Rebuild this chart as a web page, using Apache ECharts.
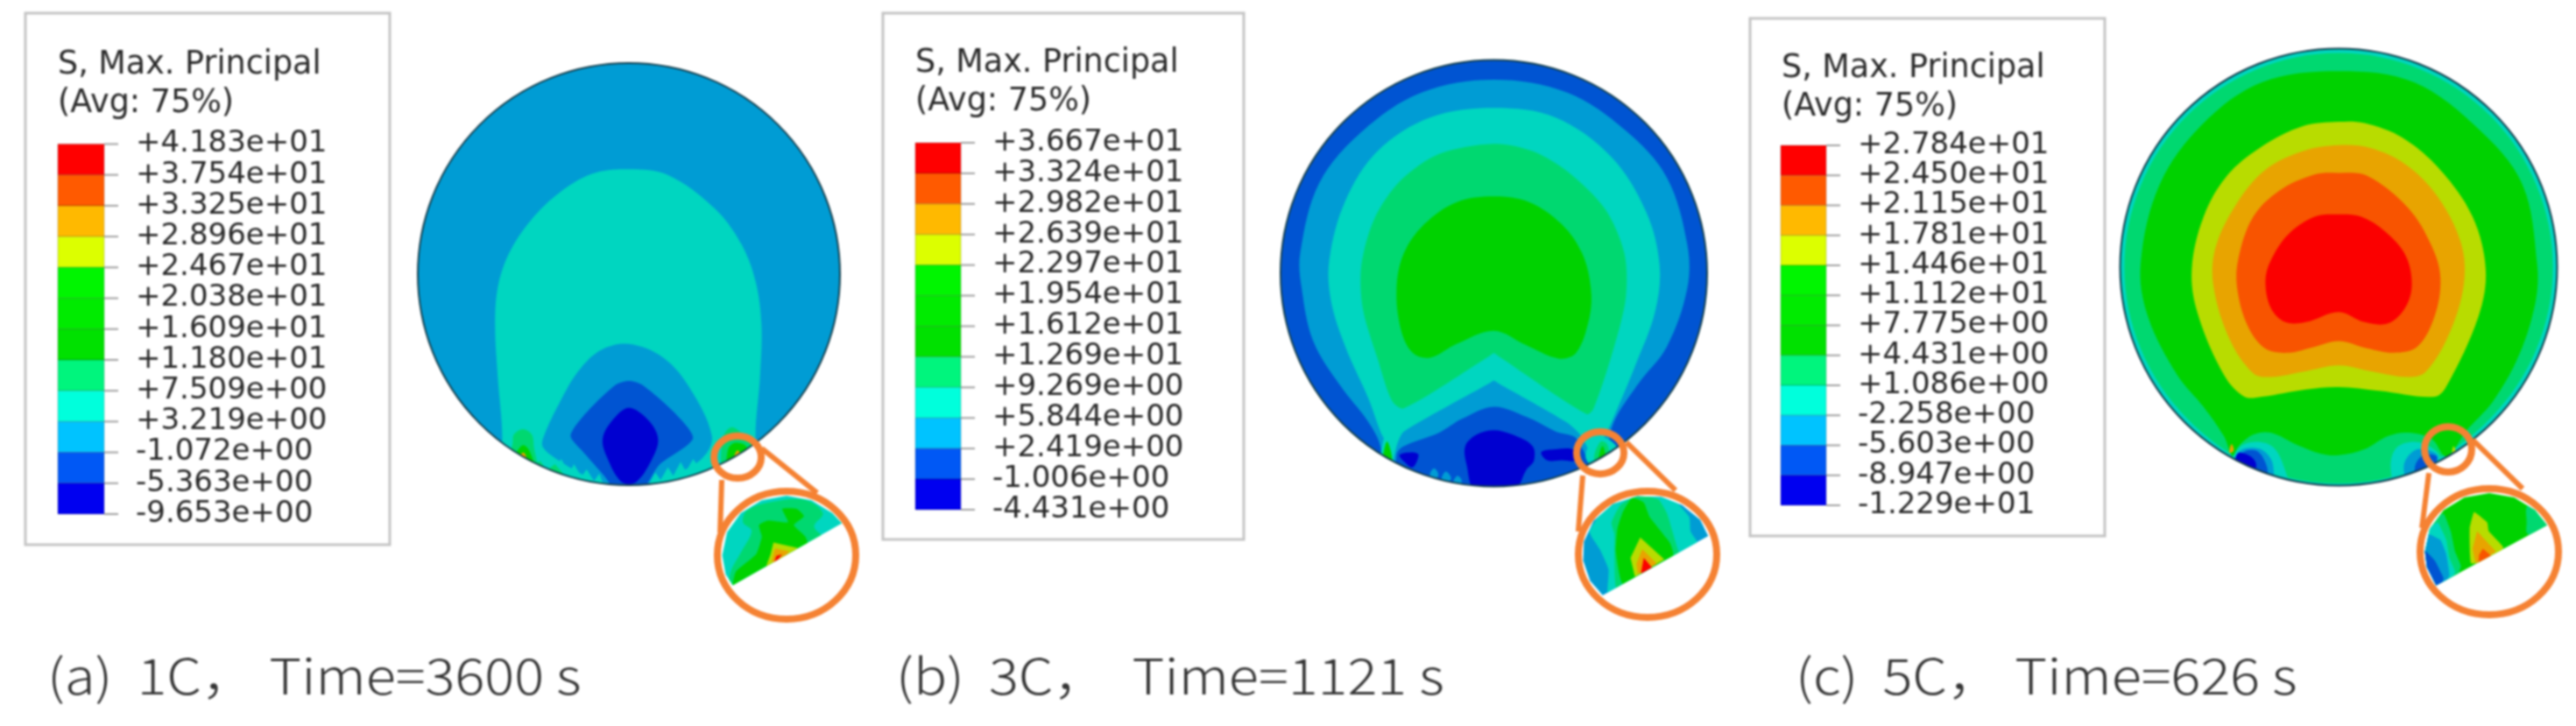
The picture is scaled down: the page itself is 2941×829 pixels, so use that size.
<!DOCTYPE html>
<html>
<head>
<meta charset="utf-8">
<title>Max principal stress contours</title>
<script src="https://cdn.jsdelivr.net/npm/echarts@6/dist/echarts.min.js"></script>
<style>
  html, body { margin: 0; background: #fff; }
  #chart { width: 2941px; height: 829px; filter: blur(0.8px); }
</style>
</head>
<body>
<div id="chart"></div>
<script>
// legend bands, top to bottom
const legendColors = ['#ff0000', '#ff5a00', '#ffb900', '#dcff00', '#00f500', '#00eb00', '#00e100', '#00f57d', '#00ffdc', '#00c3ff', '#0058f5', '#0000f0']
// contour fills are a bit darker than the legend
const RED = 0, ORANGERED = 1, ORANGE = 2, YELLOW = 3, GREEN = 4, SEA = 5, CYAN = 6, SKY = 7, BLUE = 8, DEEP = 9
const contourColors = ['#fb0000', '#f85400', '#e8a400', '#b8dc00', '#00d200', '#00d870', '#00d6c0', '#009cd4', '#0054d2', '#0000d0']

const levelsA = ['+4.183e+01', '+3.754e+01', '+3.325e+01', '+2.896e+01', '+2.467e+01', '+2.038e+01', '+1.609e+01', '+1.180e+01', '+7.509e+00', '+3.219e+00', '-1.072e+00', '-5.363e+00', '-9.653e+00']
const levelsB = ['+3.667e+01', '+3.324e+01', '+2.982e+01', '+2.639e+01', '+2.297e+01', '+1.954e+01', '+1.612e+01', '+1.269e+01', '+9.269e+00', '+5.844e+00', '+2.419e+00', '-1.006e+00', '-4.431e+00']
const levelsC = ['+2.784e+01', '+2.450e+01', '+2.115e+01', '+1.781e+01', '+1.446e+01', '+1.112e+01', '+7.775e+00', '+4.431e+00', '+1.086e+00', '-2.258e+00', '-5.603e+00', '-8.947e+00', '-1.229e+01']

const legendTitle = 'S, Max. Principal\n(Avg: 75%)'
const captions = ['(a)  1C， Time=3600 s', '(b)  3C， \u2009Time=1121 s', '(c)  5C， Time=626 s']

// contours: [band, points, smooth?], x/y in disc radii
const discA = [
  [CYAN, [[0, 0.497], [-0.172, 0.476], [-0.338, 0.379], [-0.476, 0.241], [-0.572, 0.09], [-0.621, -0.062], [-0.634, -0.241], [-0.621, -0.49], [-0.6, -0.779], [-0.62, -1.1], [0.63, -1.1], [0.6, -0.779], [0.621, -0.49], [0.628, -0.241], [0.6, -0.034], [0.531, 0.145], [0.407, 0.31], [0.186, 0.469]]],
  [SKY, [[0, -0.331], [-0.131, -0.359], [-0.241, -0.462], [-0.338, -0.628], [-0.407, -0.779], [-0.407, -0.821], [-0.352, -0.87], [-0.21, -0.955], [-0.075, -1.02], [0.075, -1.02], [0.21, -0.955], [0.35, -0.87], [0.393, -0.766], [0.283, -0.531], [0.159, -0.393]]],
  [BLUE, [[0, -0.506], [-0.062, -0.524], [-0.2, -0.655], [-0.276, -0.766], [-0.214, -0.845], [-0.117, -0.955], [-0.062, -1.02], [0.062, -1.02], [0.145, -0.903], [0.303, -0.779], [0.214, -0.655], [0.062, -0.524]], 0.25],
  [DEEP, [[0, -0.634], [-0.076, -0.69], [-0.124, -0.779], [-0.103, -0.869], [-0.034, -0.985], [0.034, -0.985], [0.11, -0.876], [0.138, -0.779], [0.09, -0.69]]],
  [CYAN, [[-0.07, -1.05], [-0.09, -0.995], [-0.125, -0.985], [-0.14, -0.945], [-0.165, -0.98], [-0.2, -0.925], [-0.225, -0.96], [-0.26, -0.9], [-0.285, -0.945], [-0.32, -0.875], [-0.345, -0.91], [-0.39, -0.85], [-0.52, -0.95], [-0.3, -1.1]], 0],
  [CYAN, [[0.07, -1.05], [0.1, -0.985], [0.125, -0.94], [0.15, -0.975], [0.185, -0.915], [0.21, -0.955], [0.245, -0.89], [0.27, -0.935], [0.305, -0.875], [0.33, -0.915], [0.37, -0.85], [0.42, -0.9], [0.38, -1.1]], 0],
  [SEA, [[-0.48, -0.92], [-0.42, -0.885], [-0.39, -0.93], [-0.35, -0.9], [-0.3, -0.96], [-0.4, -1.0]], 0],
  [SEA, [[-0.55, -0.8], [-0.545, -0.76], [-0.502, -0.734], [-0.46, -0.76], [-0.45, -0.82], [-0.44, -0.92], [-0.56, -0.88]]],
  [GREEN, [[-0.53, -0.84], [-0.5, -0.81], [-0.47, -0.84], [-0.45, -0.92], [-0.55, -0.88]]],
  [ORANGE, [[-0.52, -0.865], [-0.5, -0.845], [-0.485, -0.87], [-0.49, -0.9], [-0.53, -0.88]]],
  [SEA, [[0.44, -0.8], [0.46, -0.745], [0.49, -0.725], [0.53, -0.75], [0.58, -0.8], [0.6, -0.85], [0.45, -0.92]]],
  [GREEN, [[0.47, -0.83], [0.5, -0.8], [0.55, -0.81], [0.56, -0.84], [0.47, -0.92]]],
  [ORANGE, [[0.5, -0.86], [0.515, -0.835], [0.53, -0.86], [0.5, -0.9]]]
]
const discB = [
  [SKY, [[0, 0.908], [-0.34, 0.847], [-0.614, 0.668], [-0.819, 0.422], [-0.908, 0.093], [-0.901, -0.071], [-0.847, -0.318], [-0.723, -0.523], [-0.586, -0.701], [-0.532, -0.811], [-0.5, -1.05], [0.5, -1.05], [0.551, -0.729], [0.674, -0.523], [0.811, -0.345], [0.907, -0.071], [0.907, 0.134], [0.811, 0.449], [0.619, 0.668], [0.345, 0.847]]],
  [CYAN, [[0, 0.775], [-0.299, 0.73], [-0.545, 0.573], [-0.696, 0.34], [-0.771, 0.066], [-0.764, -0.126], [-0.696, -0.345], [-0.586, -0.592], [-0.532, -0.742], [-0.497, -0.818], [-0.49, -1.05], [0.49, -1.05], [0.51, -0.797], [0.551, -0.701], [0.66, -0.441], [0.756, -0.181], [0.777, 0.038], [0.715, 0.285], [0.551, 0.545], [0.29, 0.73]]],
  [SEA, [[0, 0.607], [-0.258, 0.559], [-0.436, 0.436], [-0.559, 0.258], [-0.621, 0.038], [-0.614, -0.167], [-0.545, -0.4], [-0.477, -0.599], [-0.422, -0.633], [-0.02, -0.388], [0, -0.375], [0.02, -0.388], [0.434, -0.66], [0.468, -0.633], [0.564, -0.345], [0.619, -0.112], [0.612, 0.093], [0.523, 0.299], [0.345, 0.477], [0.181, 0.573]], 0.3],
  [GREEN, [[0, 0.36], [-0.175, 0.333], [-0.326, 0.23], [-0.422, 0.093], [-0.456, -0.071], [-0.436, -0.263], [-0.381, -0.373], [-0.299, -0.396], [-0.175, -0.332], [0, -0.27], [0.153, -0.338], [0.304, -0.4], [0.386, -0.373], [0.448, -0.208], [0.455, -0.071], [0.414, 0.093], [0.318, 0.23], [0.167, 0.333]]],
  [SKY, [[0, -0.503], [-0.02, -0.515], [-0.422, -0.742], [-0.456, -0.811], [-0.47, -0.96], [0.48, -0.95], [0.414, -0.77], [0.345, -0.701], [0.02, -0.515]], 0.2],
  [BLUE, [[0, -0.626], [-0.148, -0.682], [-0.258, -0.748], [-0.422, -0.811], [-0.456, -0.852], [-0.44, -1.05], [0.46, -1.05], [0.393, -0.782], [0.29, -0.742], [0.153, -0.674]]],
  [DEEP, [[0, -0.736], [-0.079, -0.756], [-0.134, -0.811], [-0.127, -0.9], [-0.086, -1.02], [0.099, -1.01], [0.153, -0.921], [0.188, -0.879], [0.181, -0.81], [0.085, -0.756]]],
  [DEEP, [[0.222, -0.84], [0.277, -0.827], [0.373, -0.827], [0.386, -0.877], [0.318, -0.877], [0.249, -0.877]]],
  [DEEP, [[-0.442, -0.852], [-0.381, -0.84], [-0.353, -0.852], [-0.381, -0.91], [-0.422, -0.882]]],
  [SKY, [[-0.3, -0.945], [-0.28, -0.915], [-0.26, -0.945], [-0.28, -0.97]]],
  [SKY, [[-0.245, -0.965], [-0.225, -0.93], [-0.2, -0.96], [-0.22, -0.985]]],
  [SKY, [[-0.19, -0.98], [-0.17, -0.95], [-0.15, -0.975], [-0.17, -0.995]]],
  [CYAN, [[-0.53, -0.87], [-0.5, -0.74], [-0.47, -0.88], [-0.5, -0.92]]],
  [GREEN, [[-0.52, -0.87], [-0.5, -0.79], [-0.475, -0.89], [-0.5, -0.9]]],
  [CYAN, [[0.43, -0.86], [0.48, -0.77], [0.54, -0.78], [0.58, -0.83], [0.5, -0.93]]],
  [SEA, [[0.47, -0.87], [0.5, -0.79], [0.53, -0.8], [0.54, -0.86], [0.5, -0.92]]],
  [GREEN, [[0.49, -0.88], [0.51, -0.81], [0.525, -0.87], [0.51, -0.91]]]
]
const discC = [
  [SEA, [[0, 0.98], [0.375, 0.905], [0.693, 0.693], [0.905, 0.375], [0.98, 0], [0.905, -0.375], [0.693, -0.693], [0.375, -0.915], [0, -0.99], [-0.375, -0.915], [-0.693, -0.693], [-0.905, -0.375], [-0.98, 0], [-0.905, 0.375], [-0.693, 0.693], [-0.375, 0.905]]],
  [GREEN, [[0, 0.897], [-0.351, 0.846], [-0.618, 0.659], [-0.819, 0.378], [-0.906, 0.016], [-0.873, -0.225], [-0.739, -0.493], [-0.618, -0.64], [-0.525, -0.774], [-0.485, -0.867], [-0.458, -0.82], [-0.391, -0.767], [-0.311, -0.758], [-0.19, -0.814], [-0.083, -0.854], [0, -0.861], [0.118, -0.834], [0.225, -0.774], [0.319, -0.758], [0.426, -0.787], [0.493, -0.867], [0.586, -0.747], [0.707, -0.613], [0.827, -0.399], [0.901, -0.158], [0.908, 0.016], [0.841, 0.378], [0.64, 0.632], [0.345, 0.846]]],
  [YELLOW, [[0, 0.665], [-0.163, 0.645], [-0.351, 0.552], [-0.511, 0.418], [-0.618, 0.23], [-0.672, -0.011], [-0.645, -0.212], [-0.525, -0.493], [-0.431, -0.593], [-0.351, -0.593], [-0.15, -0.56], [0, -0.549], [0.185, -0.566], [0.439, -0.593], [0.493, -0.546], [0.64, -0.225], [0.673, -0.011], [0.613, 0.23], [0.466, 0.444], [0.292, 0.592], [0.118, 0.659]]],
  [ORANGE, [[0, 0.558], [-0.163, 0.531], [-0.337, 0.444], [-0.471, 0.284], [-0.565, 0.083], [-0.572, -0.091], [-0.498, -0.332], [-0.391, -0.486], [-0.311, -0.503], [-0.163, -0.479], [0, -0.45], [0.158, -0.479], [0.319, -0.503], [0.399, -0.479], [0.506, -0.305], [0.573, -0.078], [0.56, 0.11], [0.452, 0.324], [0.305, 0.471], [0.145, 0.545]]],
  [ORANGERED, [[0, 0.431], [-0.11, 0.424], [-0.27, 0.351], [-0.391, 0.23], [-0.458, 0.043], [-0.465, -0.091], [-0.418, -0.265], [-0.337, -0.372], [-0.23, -0.392], [-0.11, -0.365], [0, -0.339], [0.131, -0.372], [0.252, -0.392], [0.359, -0.365], [0.439, -0.225], [0.466, -0.051], [0.426, 0.096], [0.319, 0.27], [0.131, 0.418]]],
  [RED, [[0, 0.241], [-0.11, 0.23], [-0.23, 0.15], [-0.311, 0.029], [-0.335, -0.064], [-0.311, -0.185], [-0.244, -0.252], [-0.15, -0.252], [0, -0.205], [0.118, -0.252], [0.225, -0.258], [0.305, -0.185], [0.335, -0.078], [0.305, 0.056], [0.212, 0.163], [0.104, 0.23]]],
  [CYAN, [[-0.458, -0.83], [-0.378, -0.8], [-0.297, -0.827], [-0.244, -0.932], [-0.237, -1.0], [-0.5, -0.95]]],
  [SKY, [[-0.45, -0.84], [-0.364, -0.831], [-0.311, -0.876], [-0.297, -0.937], [-0.3, -1.0], [-0.48, -0.92]]],
  [BLUE, [[-0.44, -0.85], [-0.378, -0.84], [-0.337, -0.89], [-0.33, -0.95], [-0.46, -0.92]]],
  [DEEP, [[-0.458, -0.85], [-0.404, -0.866], [-0.378, -0.9], [-0.39, -0.95], [-0.47, -0.9]]],
  [CYAN, [[0.238, -0.908], [0.265, -0.827], [0.345, -0.8], [0.426, -0.827], [0.466, -0.881], [0.386, -0.948], [0.265, -1.0]]],
  [SKY, [[0.3, -0.9], [0.36, -0.834], [0.453, -0.862], [0.42, -0.94], [0.32, -0.98]]],
  [BLUE, [[0.35, -0.91], [0.39, -0.86], [0.45, -0.87], [0.41, -0.95], [0.36, -0.97]]],
  [ORANGE, [[-0.5, -0.85], [-0.49, -0.81], [-0.48, -0.84]]],
  [YELLOW, [[0.52, -0.85], [0.525, -0.82], [0.535, -0.84]]]
]

// magnified views: x/y in ring radii
const insetA = [
  [SEA, [[-0.63, 0.518], [-0.567, 0.702], [-0.189, 0.839], [0.273, 0.862], [0.525, 0.656], [0.399, 0.45], [0.567, 0.197], [-0.777, -0.628], [-0.819, -0.307], [-0.651, 0.06], [-0.504, 0.381]]],
  [GREEN, [[-0.399, 0.472], [-0.273, 0.541], [0.021, 0.518], [-0.063, 0.725], [0.147, 0.725], [0.252, 0.61], [0.105, 0.472], [0.273, 0.289], [0.315, 0.106], [-0.777, -0.583], [-0.735, -0.261], [-0.441, 0.014], [-0.357, 0.289]], 0.15],
  [YELLOW, [[-0.189, 0.197], [0.189, 0.106], [-0.189, -0.261], [-0.294, -0.17], [-0.231, 0.014]], 0],
  [ORANGE, [[-0.168, 0.106], [0.042, 0.06], [-0.189, -0.216], [-0.21, -0.08]], 0],
  [RED, [[-0.147, -0.01], [-0.063, 0.014], [-0.189, -0.147]], 0]
]
const segmentA = [[0.8, 0.5], [0.66, 0.66], [0.36, 0.86], [0, 0.93], [-0.36, 0.86], [-0.66, 0.66], [-0.86, 0.36], [-0.93, 0], [-0.88, -0.3], [-0.777, -0.468]]
const insetB = [
  [CYAN, [[-0.839, 0.361], [-0.606, 0.731], [-0.055, 0.986], [0.369, 0.87], [0.602, 0.593], [0.623, 0.361], [0.792, 0.037], [-0.564, -0.75], [-0.564, -0.241], [-0.691, 0.083]], 0.15],
  [SEA, [[-0.521, 0.5], [-0.394, 0.778], [-0.14, 0.94], [0.157, 0.87], [0.284, 0.639], [0.453, 0.037], [0.538, -0.009], [-0.436, -0.565], [-0.479, -0.056], [-0.479, 0.315]], 0.15],
  [GREEN, [[-0.352, 0.685], [-0.225, 0.894], [-0.055, 0.824], [0.03, 0.593], [0.326, 0.176], [0.369, -0.032], [-0.352, -0.472], [-0.458, 0.037], [-0.436, 0.407]], 0.15],
  [YELLOW, [[-0.106, 0.269], [0.242, -0.079], [-0.182, -0.356], [-0.246, -0.056]], 0],
  [ORANGE, [[-0.076, 0.083], [0.136, -0.148], [-0.14, -0.31], [-0.161, -0.148]], 0],
  [RED, [[-0.055, -0.056], [0.072, -0.218], [-0.097, -0.31]], 0]
]
const segmentB = [[0.877, 0.292], [0.76, 0.55], [0.5, 0.78], [0.2, 0.91], [-0.15, 0.92], [-0.5, 0.8], [-0.78, 0.53], [-0.92, 0.2], [-0.93, -0.1], [-0.83, -0.42], [-0.648, -0.648]]
const insetC = [
  [SEA, [[0.561, 0.744], [0.54, 0.465], [0.561, 0.279], [0.95, 0.3], [0.9, 0.8]]],
  [SEA, [[-0.662, 0.605], [-0.557, 0.326], [-0.494, 0], [-0.409, -0.233], [-0.6, -0.7], [-1.1, -0.3], [-0.95, 0.4]], 0.1],
  [CYAN, [[-0.747, 0.465], [-0.62, 0.186], [-0.578, -0.093], [-0.494, -0.326], [-0.7, -0.7], [-1.1, -0.3], [-0.95, 0.3]], 0.1],
  [SKY, [[-0.873, 0.279], [-0.705, 0.186], [-0.62, -0.047], [-0.578, -0.372], [-0.75, -0.7], [-1.1, -0.3], [-1.0, 0.2]], 0.1],
  [BLUE, [[-0.937, 0.023], [-0.789, -0.14], [-0.662, -0.419], [-0.72, -0.6], [-0.9, -0.5], [-1.05, -0.1]], 0.1],
  [YELLOW, [[-0.219, 0.628], [-0.03, 0.465], [-0.008, 0.326], [0.203, 0.07], [0.1, -0.1], [-0.262, -0.186], [-0.283, 0.372]], 0.1],
  [ORANGE, [[-0.177, 0.326], [0.097, 0], [-0.198, -0.186], [-0.24, 0.047]], 0],
  [ORANGERED, [[-0.093, 0.047], [0.034, -0.07], [-0.156, -0.186], [-0.148, -0.047]], 0]
]
const segmentC = [[0.835, 0.419], [0.66, 0.66], [0.36, 0.86], [0, 0.93], [-0.36, 0.86], [-0.66, 0.66], [-0.86, 0.36], [-0.93, 0], [-0.9, -0.25], [-0.768, -0.535]]

const ORANGE_RING = '#f58233'
const TICK_LEN = 16

// pixel layout of each panel
const panels = [
  { levels: levelsA, base: SKY, disc: discA, inset: insetA, segment: segmentA, insetBase: CYAN,
    box: [29, 15, 416, 607], title: [66, 53], bar: [66, 164.5, 53, 422.5],
    center: [718, 313], r: 241, ring: [898, 634, 79, 73], small: [0.515, -0.867, 0.112, 0.1],
    leaders: [[[0.44, -0.975], [0.432, -1.224]], [[0.63, -0.826], [0.892, -1.037]]],
    caption: [54, 772] },
  { levels: levelsB, base: BLUE, disc: discB, inset: insetB, segment: segmentB, insetBase: SKY,
    box: [1008, 15, 412, 601], title: [1045, 51], bar: [1045, 163, 52, 419],
    center: [1705.5, 312], r: 243.5, ring: [1881, 633, 79, 72], small: [0.499, -0.842, 0.111, 0.099],
    leaders: [[[0.417, -0.949], [0.396, -1.211]], [[0.622, -0.793], [0.852, -1.018]]],
    caption: [1023, 772] },
  { levels: levelsC, base: CYAN, disc: discC, inset: insetC, segment: segmentC, insetBase: GREEN,
    box: [1998, 21, 405, 591], title: [2034, 57], bar: [2033, 166, 52, 411],
    center: [2670, 305], r: 249.5, ring: [2842, 630, 79, 72], small: [0.501, -0.834, 0.108, 0.104],
    leaders: [[[0.413, -0.942], [0.381, -1.194]], [[0.613, -0.79], [0.842, -1.014]]],
    caption: [2050, 772] }
]

const grids = [], xAxes = [], yAxes = [], series = [], titles = [], frames = []

function addGrid (rect, xMin, xMax, yMin, yMax) {
  grids.push({ left: rect[0], top: rect[1], width: rect[2], height: rect[3] })
  const i = grids.length - 1
  xAxes.push({ type: 'value', gridIndex: i, min: xMin, max: xMax, show: false })
  yAxes.push({ type: 'value', gridIndex: i, min: yMin, max: yMax, show: false })
  return i
}

function toPixels (api, pts) {
  return pts.map((p) => api.coord(p))
}

// draws a list of [band, points, smooth] layers, all clipped to clipFn's shape
function contourSeries (i, layers, clipFn) {
  return {
    type: 'custom',
    xAxisIndex: i,
    yAxisIndex: i,
    clip: false,
    silent: true,
    animation: false,
    data: layers.map((l, k) => [k]),
    renderItem: (params, api) => {
      const layer = layers[params.dataIndex]
      return {
        type: 'polygon',
        shape: { points: toPixels(api, layer[1]), smooth: layer[2] === undefined ? 0.35 : layer[2] },
        style: { fill: contourColors[layer[0]] },
        clipPath: clipFn(api)
      }
    }
  }
}

panels.forEach((p, n) => {
  // legend frame
  frames.push({
    type: 'rect',
    shape: { x: p.box[0], y: p.box[1], width: p.box[2], height: p.box[3] },
    style: { fill: 'none', stroke: '#c4c4c4', lineWidth: 3 },
    silent: true
  })
  titles.push({
    text: legendTitle,
    left: p.title[0],
    top: p.title[1],
    padding: 0,
    textStyle: { fontFamily: 'DejaVu Sans', fontSize: 36.5, fontWeight: 'normal', color: '#2a2a2a', lineHeight: 44 }
  })
  // caption font runs wider than anything installed, so stretch it a little
  frames.push({
    type: 'text',
    x: p.caption[0],
    y: p.caption[1],
    scaleX: 1.13,
    silent: true,
    style: {
      text: captions[n],
      fontFamily: 'Noto Sans CJK SC',
      fontSize: 56,
      fontWeight: 300,
      fill: '#333',
      verticalAlign: 'middle'
    }
  })

  // colour bar, tick labels come from the axis
  const barIdx = grids.length
  grids.push({ left: p.bar[0], top: p.bar[1], width: p.bar[2], height: p.bar[3] })
  xAxes.push({ type: 'value', gridIndex: barIdx, min: 0, max: 1, show: false })
  yAxes.push({
    type: 'value',
    gridIndex: barIdx,
    position: 'right',
    min: 0,
    max: 12,
    interval: 1,
    axisLine: { show: false },
    splitLine: { show: false },
    axisTick: { show: false },
    axisLabel: {
      show: true,
      margin: 36,
      padding: [0, 0, 5, 0],
      fontFamily: 'DejaVu Sans',
      fontSize: 34,
      color: '#2a2a2a',
      formatter: (v) => p.levels[12 - v]
    }
  })
  series.push({
    type: 'custom',
    xAxisIndex: barIdx,
    yAxisIndex: barIdx,
    clip: false,
    silent: true,
    animation: false,
    data: legendColors.map((c, k) => [k]),
    renderItem: (params, api) => {
      const k = params.dataIndex
      const a = api.coord([0, 12 - k])
      const b = api.coord([1, 11 - k])
      const tick = (y) => ({
        type: 'line',
        shape: { x1: b[0], y1: y, x2: b[0] + TICK_LEN, y2: y },
        style: { stroke: '#a0a0a0', lineWidth: 2 }
      })
      const children = [{
        type: 'rect',
        shape: { x: a[0], y: a[1], width: b[0] - a[0], height: b[1] - a[1] },
        style: { fill: legendColors[k], stroke: 'rgba(0,0,0,0.18)', lineWidth: 1 }
      }, tick(a[1])]
      if (k === legendColors.length - 1) children.push(tick(b[1]))
      return { type: 'group', children: children }
    }
  })

  // the disc
  const d = addGrid([p.center[0] - p.r, p.center[1] - p.r, 2 * p.r, 2 * p.r], -1, 1, -1, 1)
  const discClip = (api) => {
    const c = api.coord([0, 0])
    return { type: 'circle', shape: { cx: c[0], cy: c[1], r: api.size([1, 0])[0] } }
  }
  const discLayers = [[p.base, [[-1.2, 1.2], [1.2, 1.2], [1.2, -1.2], [-1.2, -1.2]], 0]].concat(p.disc)
  series.push(contourSeries(d, discLayers, discClip))

  // outline, pointer lines and the small ring, in disc units
  series.push({
    type: 'custom',
    xAxisIndex: d,
    yAxisIndex: d,
    clip: false,
    silent: true,
    animation: false,
    data: [[0]],
    renderItem: (params, api) => {
      const c = api.coord([0, 0])
      const rr = api.size([1, 1])
      const s = api.coord([p.small[0], p.small[1]])
      const children = [{
        type: 'circle',
        shape: { cx: c[0], cy: c[1], r: rr[0] },
        style: { fill: 'none', stroke: '#15404f', lineWidth: 2 }
      }]
      p.leaders.forEach((l) => {
        const from = api.coord(l[0])
        const to = api.coord(l[1])
        children.push({
          type: 'line',
          shape: { x1: from[0], y1: from[1], x2: to[0], y2: to[1] },
          style: { stroke: ORANGE_RING, lineWidth: 6 }
        })
      })
      children.push({
        type: 'ellipse',
        shape: { cx: s[0], cy: s[1], rx: p.small[2] * rr[0], ry: p.small[3] * rr[1] },
        style: { fill: 'none', stroke: ORANGE_RING, lineWidth: 8 }
      })
      return { type: 'group', children: children }
    }
  })

  // magnified view
  const m = addGrid([p.ring[0] - p.ring[2], p.ring[1] - p.ring[3], 2 * p.ring[2], 2 * p.ring[3]], -1, 1, -1, 1)
  const segClip = (api) => ({ type: 'polygon', shape: { points: toPixels(api, p.segment), smooth: 0 } })
  const insetLayers = [[p.insetBase, [[-1.2, 1.2], [1.2, 1.2], [1.2, -1.2], [-1.2, -1.2]], 0]].concat(p.inset)
  series.push(contourSeries(m, insetLayers, segClip))
  series.push({
    type: 'custom',
    xAxisIndex: m,
    yAxisIndex: m,
    clip: false,
    silent: true,
    animation: false,
    data: [[0]],
    renderItem: (params, api) => {
      const c = api.coord([0, 0])
      const rr = api.size([1, 1])
      return {
        type: 'ellipse',
        shape: { cx: c[0], cy: c[1], rx: rr[0], ry: rr[1] },
        style: { fill: 'none', stroke: ORANGE_RING, lineWidth: 8 }
      }
    }
  })
})

const myChart = echarts.init(document.getElementById('chart'))
myChart.setOption({
  animation: false,
  backgroundColor: '#fff',
  title: titles,
  grid: grids,
  xAxis: xAxes,
  yAxis: yAxes,
  graphic: frames,
  series: series
})
</script>
</body>
</html>
